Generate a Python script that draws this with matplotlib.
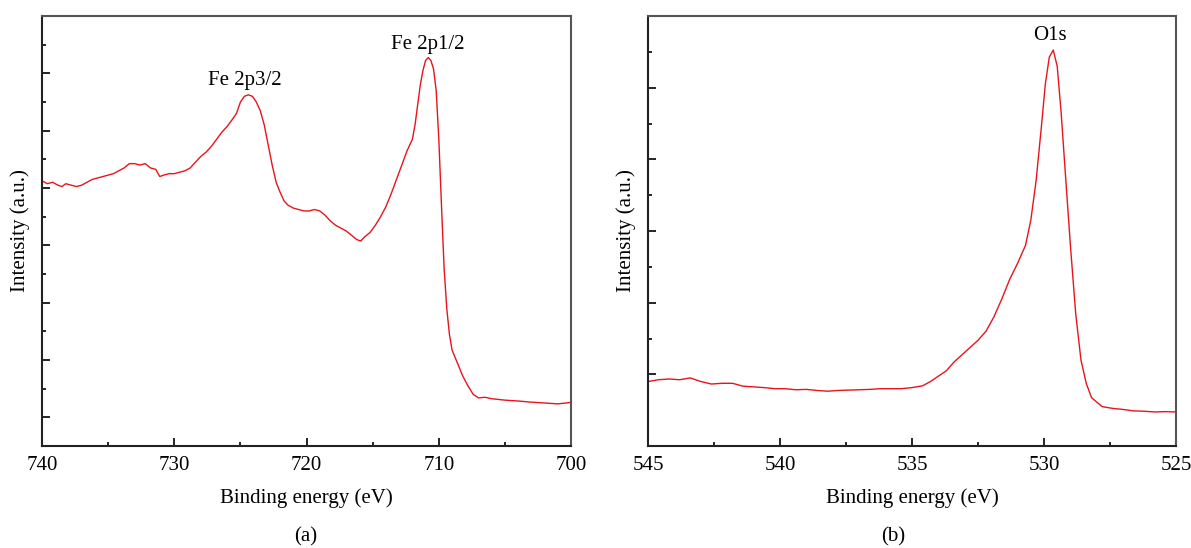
import numpy as np
import matplotlib
matplotlib.use('Agg')
import matplotlib.pyplot as plt
from matplotlib.ticker import MultipleLocator, NullFormatter

# --- Data (arbitrary intensity units) ---
fe_energy = [740.0, 739.6, 739.2, 738.8, 738.5, 738.2, 737.8, 737.4, 737.0, 736.6,
             736.2, 735.8, 735.4, 735.0, 734.6, 734.2, 733.8, 733.4, 733.0, 732.6,
             732.2, 731.8, 731.4, 731.1, 730.8, 730.4, 730.0, 729.6, 729.2, 728.8,
             728.4, 728.0, 727.6, 727.2, 726.8, 726.4, 726.0, 725.6, 725.3, 725.0,
             724.7, 724.4, 724.1, 723.8, 723.5, 723.2, 722.9, 722.6, 722.3, 722.0,
             721.7, 721.4, 721.0, 720.6, 720.2, 719.8, 719.4, 719.0, 718.6, 718.2,
             717.8, 717.4, 717.0, 716.6, 716.2, 715.9, 715.6, 715.2, 714.8, 714.4,
             714.0, 713.6, 713.2, 712.8, 712.4, 712.0, 711.8, 711.6, 711.4, 711.2,
             711.0, 710.8, 710.6, 710.4, 710.2, 710.0, 709.8, 709.6, 709.4, 709.2,
             709.0, 708.6, 708.2, 707.8, 707.4, 707.0, 706.5, 706.0, 705.0, 704.0,
             703.0, 702.0, 701.0, 700.0]
fe_intensity = [9.25, 9.15, 9.2, 9.1, 9.05, 9.15, 9.1, 9.05, 9.1, 9.2,
                9.3, 9.35, 9.4, 9.45, 9.5, 9.6, 9.7, 9.85, 9.85, 9.8,
                9.85, 9.7, 9.65, 9.4, 9.45, 9.5, 9.5, 9.55, 9.6, 9.7,
                9.9, 10.1, 10.25, 10.45, 10.7, 10.95, 11.15, 11.4, 11.6, 12.0,
                12.2, 12.25, 12.2, 12.0, 11.7, 11.2, 10.5, 9.8, 9.2, 8.85,
                8.55, 8.4, 8.3, 8.25, 8.2, 8.2, 8.25, 8.2, 8.05, 7.85,
                7.7, 7.6, 7.5, 7.35, 7.2, 7.15, 7.3, 7.45, 7.7, 8.0,
                8.35, 8.8, 9.3, 9.8, 10.3, 10.7, 11.2, 11.9, 12.6, 13.1,
                13.45, 13.55, 13.45, 13.15, 12.4, 10.7, 8.4, 6.2, 4.8, 3.9,
                3.35, 2.9, 2.45, 2.1, 1.8, 1.68, 1.7, 1.65, 1.6, 1.57,
                1.53, 1.5, 1.47, 1.52]

o_energy = [545.0, 544.6, 544.2, 543.8, 543.4, 543.0, 542.6, 542.2, 541.8, 541.4,
            541.0, 540.6, 540.2, 539.8, 539.4, 539.0, 538.6, 538.2, 537.8, 537.4,
            537.0, 536.6, 536.2, 535.8, 535.4, 535.0, 534.6, 534.3, 534.0, 533.7,
            533.4, 533.1, 532.8, 532.5, 532.2, 531.9, 531.6, 531.3, 531.0, 530.7,
            530.5, 530.3, 530.1, 529.95, 529.8, 529.65, 529.5, 529.35, 529.2, 529.0,
            528.8, 528.6, 528.4, 528.2, 527.8, 527.4, 527.0, 526.6, 526.2, 525.8,
            525.4, 525.0]
o_intensity = [1.80, 1.85, 1.87, 1.85, 1.9, 1.8, 1.73, 1.75, 1.75, 1.67,
               1.65, 1.63, 1.6, 1.6, 1.57, 1.58, 1.55, 1.53, 1.55, 1.56,
               1.57, 1.58, 1.6, 1.6, 1.6, 1.63, 1.68, 1.8, 1.95, 2.1,
               2.35, 2.55, 2.75, 2.95, 3.2, 3.6, 4.1, 4.65, 5.1, 5.6,
               6.3, 7.4, 8.9, 10.1, 10.85, 11.05, 10.6, 9.3, 7.7, 5.6,
               3.7, 2.4, 1.75, 1.35, 1.1, 1.05, 1.02, 0.98, 0.97, 0.95,
               0.96, 0.95]

plt.rcParams['font.family'] = ['Liberation Serif', 'DejaVu Serif']
plt.rcParams['font.size'] = 15

line_color = '#e8141c'

fig = plt.figure(figsize=(11.91, 5.48), dpi=100)
ax_a = fig.add_axes([0.0353, 0.1861, 0.4442, 0.7847])
ax_b = fig.add_axes([0.5441, 0.1861, 0.4433, 0.7847])


def style_axes(ax, xlim, xmajor, xminor, ylim, ymajor_off):
    ax.set_xlim(*xlim)
    ax.set_ylim(*ylim)
    ax.xaxis.set_major_locator(MultipleLocator(xmajor))
    ax.xaxis.set_minor_locator(MultipleLocator(xminor))
    # alternating long/short ticks on the intensity axis
    ax.set_yticks(np.arange(ymajor_off, ylim[1], 2))
    ax.set_yticks(np.arange(ymajor_off + 1, ylim[1], 2), minor=True)
    ax.yaxis.set_major_formatter(NullFormatter())
    ax.tick_params(which='both', direction='in', top=False, right=False, width=1.2)
    ax.tick_params(which='major', length=6)
    ax.tick_params(which='minor', length=3)
    ax.tick_params(axis='x', labelsize=15, pad=7)
    for side in ['left', 'bottom']:
        ax.spines[side].set_linewidth(1.5)
        ax.spines[side].set_color('#222222')
    for side in ['top', 'right']:
        ax.spines[side].set_linewidth(1.5)
        ax.spines[side].set_color('#555555')
    ax.set_xlabel('Binding energy (eV)', fontsize=15, labelpad=10)
    ax.set_ylabel('Intensity (a.u.)', fontsize=15, labelpad=5)


# --- (a) Fe 2p ---
ax_a.plot(fe_energy, fe_intensity, color=line_color, linewidth=1.0)
style_axes(ax_a, (740, 700), 10, 5, (0, 15), 1)
ax_a.text(724.65, 12.75, 'Fe 2p3/2', ha='center', va='center', fontsize=15)
ax_a.text(710.8, 14.0, 'Fe 2p1/2', ha='center', va='center', fontsize=15)

# --- (b) O 1s ---
ax_b.plot(o_energy, o_intensity, color=line_color, linewidth=1.0)
style_axes(ax_b, (545, 525), 5, 2.5, (0, 12), 2)
ax_b.text(529.77, 11.45, 'O1s', ha='center', va='center', fontsize=15)

fig.text(306 / 1191, 1 - 537 / 548, '(a)', ha='center', va='center', fontsize=15)
fig.text(893 / 1191, 1 - 537 / 548, '(b)', ha='center', va='center', fontsize=15)

fig.savefig('out.png', dpi=100)
